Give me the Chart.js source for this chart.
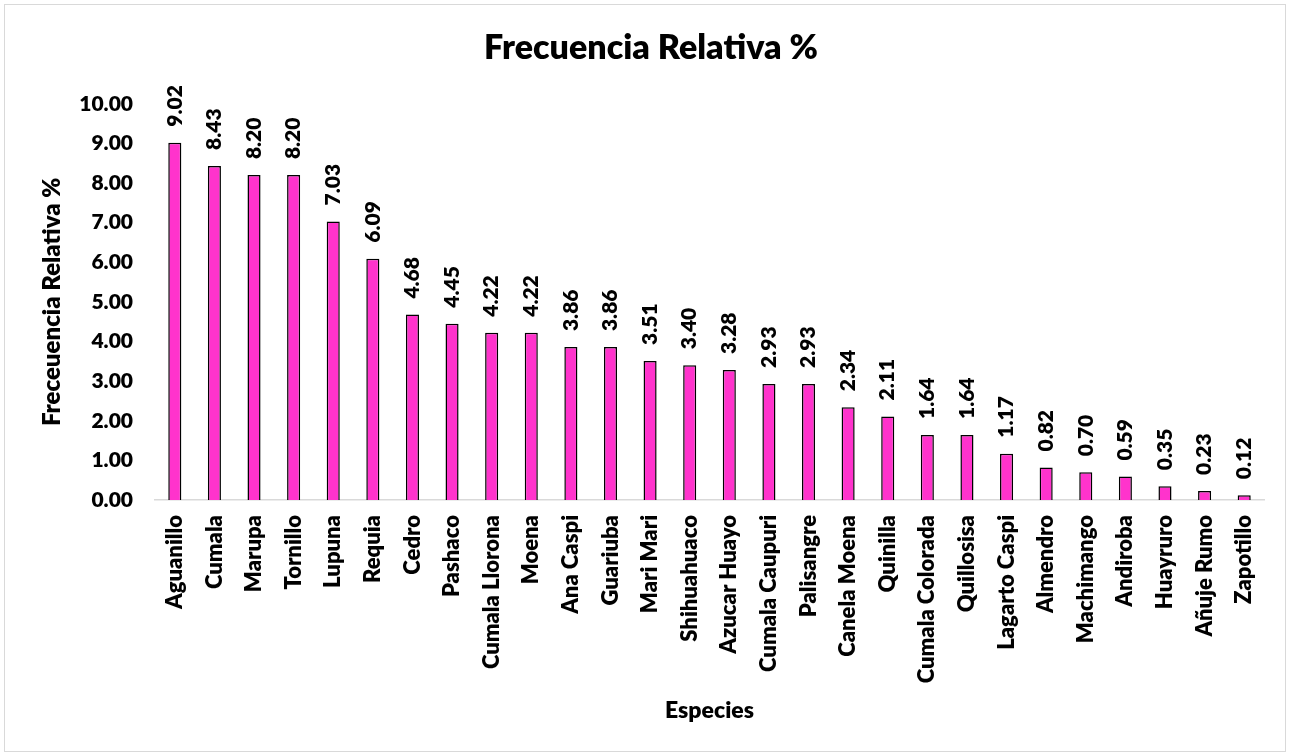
<!DOCTYPE html>
<html>
<head>
<meta charset="utf-8">
<script src="https://cdn.jsdelivr.net/npm/chart.js@4.4.1/dist/chart.umd.min.js"></script>
<style>
  html, body { margin: 0; padding: 0; background: #fff; }
  #wrap { width: 1290px; height: 756px; }
</style>
</head>
<body>
<div id="wrap"><canvas id="freqChart"></canvas></div>
<script>
// especies y frecuencia relativa (%)
const especies = [
  "Aguanillo", "Cumala", "Marupa", "Tornillo", "Lupuna", "Requia", "Cedro",
  "Pashaco", "Cumala Llorona", "Moena", "Ana Caspi", "Guariuba", "Mari Mari",
  "Shihuahuaco", "Azucar Huayo", "Cumala Caupuri", "Palisangre", "Canela Moena",
  "Quinilla", "Cumala Colorada", "Quillosisa", "Lagarto Caspi", "Almendro",
  "Machimango", "Andiroba", "Huayruro", "Añuje Rumo", "Zapotillo"
];
const frecuencia = [
  9.02, 8.43, 8.20, 8.20, 7.03, 6.09, 4.68, 4.45, 4.22, 4.22, 3.86, 3.86, 3.51,
  3.40, 3.28, 2.93, 2.93, 2.34, 2.11, 1.64, 1.64, 1.17, 0.82, 0.70, 0.59, 0.35,
  0.23, 0.12
];
const yTicks = [0, 1, 2, 3, 4, 5, 6, 7, 8, 9, 10];

const FONT = "Lato, 'Open Sans', sans-serif";
const PESO = "800";

// marco gris alrededor del grafico
const marco = {
  id: "marco",
  beforeDraw(chart) {
    const c = chart.ctx;
    c.save();
    c.fillStyle = "#fff";
    c.fillRect(0, 0, chart.width, chart.height);
    c.strokeStyle = "#d9d9d9";
    c.lineWidth = 1;
    c.strokeRect(4.5, 4.5, chart.width - 9, chart.height - 9);
    c.restore();
  }
};

// etiquetas de valor verticales encima de cada barra
const etiquetas = {
  id: "etiquetas",
  afterDatasetsDraw(chart) {
    const c = chart.ctx;
    const meta = chart.getDatasetMeta(0);
    c.save();
    c.font = PESO + " 21px " + FONT;
    c.fillStyle = "#000";
    c.textAlign = "left";
    c.textBaseline = "middle";
    meta.data.forEach((bar, i) => {
      c.save();
      c.translate(bar.x, bar.y - 16);
      c.rotate(-Math.PI / 2);
      c.fillText(frecuencia[i].toFixed(2), 0, 0);
      c.restore();
    });
    c.restore();
  }
};

new Chart(document.getElementById("freqChart"), {
  type: "bar",
  data: {
    labels: especies,
    datasets: [{
      label: "Frecuencia Relativa %",
      data: frecuencia,
      backgroundColor: "#ff33cc",
      borderColor: "#000",
      borderWidth: 1.5,
      barPercentage: 0.33,
      categoryPercentage: 1
    }]
  },
  options: {
    responsive: true,
    maintainAspectRatio: false,
    animation: false,
    layout: { padding: { top: 14, right: 26, bottom: 32, left: 38 } },
    plugins: {
      legend: { display: false },
      tooltip: { enabled: false },
      title: {
        display: true,
        text: "Frecuencia Relativa %",
        color: "#000",
        font: { family: FONT, size: 34, weight: PESO },
        padding: { top: 14, bottom: 35 }
      }
    },
    scales: {
      x: {
        afterFit(scale) { scale.height = 224; },
        grid: { display: false, drawTicks: false },
        border: { color: "#d9d9d9", width: 1.5 },
        ticks: {
          color: "#000",
          font: { family: FONT, size: 22, weight: PESO },
          minRotation: 90,
          maxRotation: 90,
          autoSkip: false,
          padding: 15
        },
        title: {
          display: true,
          text: "Especies",
          color: "#000",
          font: { family: FONT, size: 23, weight: PESO },
          padding: { top: 0, bottom: 0 }
        }
      },
      y: {
        min: 0,
        max: 10,
        afterFit(scale) { scale.width = 117; },
        afterBuildTicks(axis) {
          axis.ticks = yTicks.map(v => ({ value: v }));
        },
        grid: { display: false, drawTicks: false },
        border: { display: false },
        ticks: {
          color: "#000",
          font: { family: FONT, size: 21, weight: PESO },
          padding: 22,
          callback: v => Number(v).toFixed(2)
        },
        title: {
          display: true,
          text: "Freceuencia Relativa %",
          color: "#000",
          font: { family: FONT, size: 24, weight: PESO },
          padding: { top: 0, bottom: 0 }
        }
      }
    }
  },
  plugins: [marco, etiquetas]
});
</script>
</body>
</html>
